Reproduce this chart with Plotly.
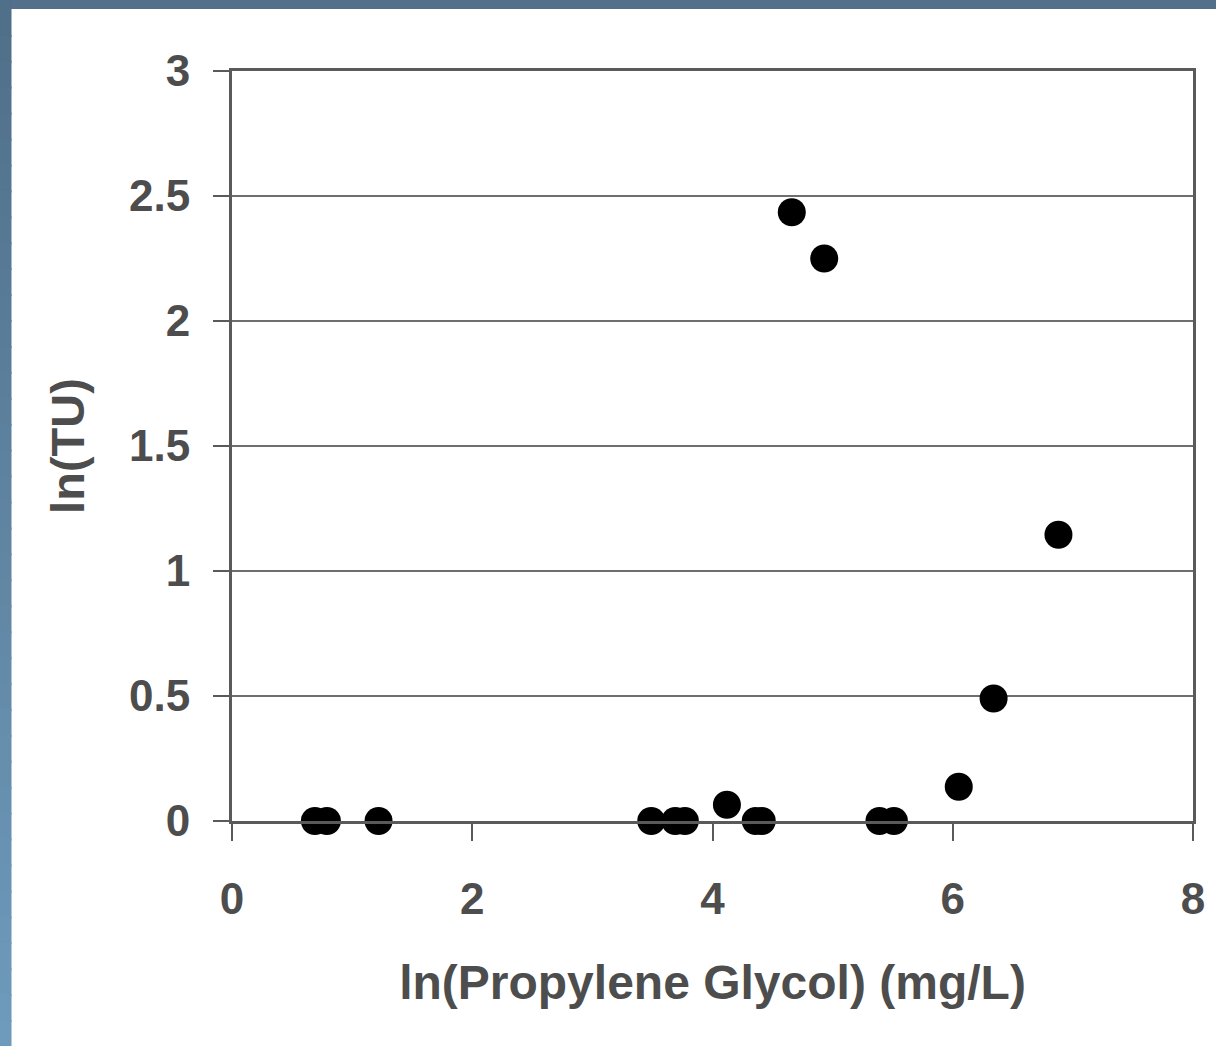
import plotly.graph_objects as go

# Data
x_ln_pg = [0.69, 0.79, 1.22, 3.49, 3.69, 3.77, 4.12, 4.36, 4.41, 5.39, 5.51, 6.05, 6.34, 6.88, 4.66, 4.93]
y_ln_tu = [0.0, 0.0, 0.0, 0.0, 0.0, 0.0, 0.065, 0.0, 0.0, 0.0, 0.0, 0.137, 0.49, 1.145, 2.435, 2.25]
x_ticks = [0, 2, 4, 6, 8]
y_ticks = [0, 0.5, 1, 1.5, 2, 2.5, 3]
y_tick_labels = ["0", "0.5", "1", "1.5", "2", "2.5", "3"]

W, H = 1216, 1046
FONT = "Liberation Sans, Arial, sans-serif"
TXT = "#4d4d4d"
LINE = "#5a5a5a"

fig = go.Figure()
fig.add_trace(go.Scatter(
    x=x_ln_pg, y=y_ln_tu, mode="markers",
    marker=dict(size=28, color="black", line=dict(width=0)),
    cliponaxis=False, showlegend=False,
))

# Decorative frame: top band and left gradient band
shapes = [dict(type="rect", xref="paper", yref="paper", x0=-233 / 961, x1=(W - 231) / 961,
               y0=1 + 62 / 750, y1=1 + 72 / 750, fillcolor="#527089", line=dict(width=0), layer="below")]
n = 40
c0 = (0x50, 0x6f, 0x89)
c1 = (0x6e, 0x9a, 0xbb)
top_px, bot_px = 9, H
for i in range(n):
    t = i / (n - 1)
    col = "rgb(%d,%d,%d)" % tuple(round(a + (b - a) * t) for a, b in zip(c0, c1))
    ya = top_px + (bot_px - top_px) * i / n if i > 0 else 0
    yb = top_px + (bot_px - top_px) * (i + 1) / n + 2
    y0p = (821 - yb) / 750
    y1p = (821 - ya) / 750
    shapes.append(dict(type="rect", xref="paper", yref="paper", x0=-233 / 961, x1=-221 / 961,
                       y0=y0p, y1=y1p, fillcolor=col, line=dict(width=1, color=col), layer="below"))

fig.update_layout(
    width=W, height=H,
    margin=dict(l=232, r=23, t=71, b=225),
    paper_bgcolor="white", plot_bgcolor="white",
    font=dict(family=FONT, color=TXT),
    shapes=shapes,
    xaxis=dict(
        range=[0, 8], tickvals=x_ticks, ticktext=[str(v) for v in x_ticks],
        showgrid=False, zeroline=False,
        showline=True, linecolor=LINE, linewidth=3, mirror=True,
        ticks="outside", ticklen=17, tickwidth=2, tickcolor=LINE,
        tickfont=dict(size=44, family=FONT, color=TXT, weight="bold"),
        ticklabelstandoff=20,
        title=dict(text="<b>ln(Propylene Glycol) (mg/L)</b>", font=dict(size=48, family=FONT, color=TXT), standoff=44),
    ),
    yaxis=dict(
        range=[0, 3], tickvals=y_ticks, ticktext=y_tick_labels,
        showgrid=True, gridcolor="#6e6e6e", gridwidth=2,
        zeroline=False,
        showline=True, linecolor=LINE, linewidth=3, mirror=True,
        ticks="outside", ticklen=16, tickwidth=2, tickcolor=LINE,
        tickfont=dict(size=44, family=FONT, color=TXT, weight="bold"),
        ticklabelstandoff=14,
        title=dict(text="<b>ln(TU)</b>", font=dict(size=47, family=FONT, color=TXT), standoff=30),
    ),
)

fig.write_html("out.html")
